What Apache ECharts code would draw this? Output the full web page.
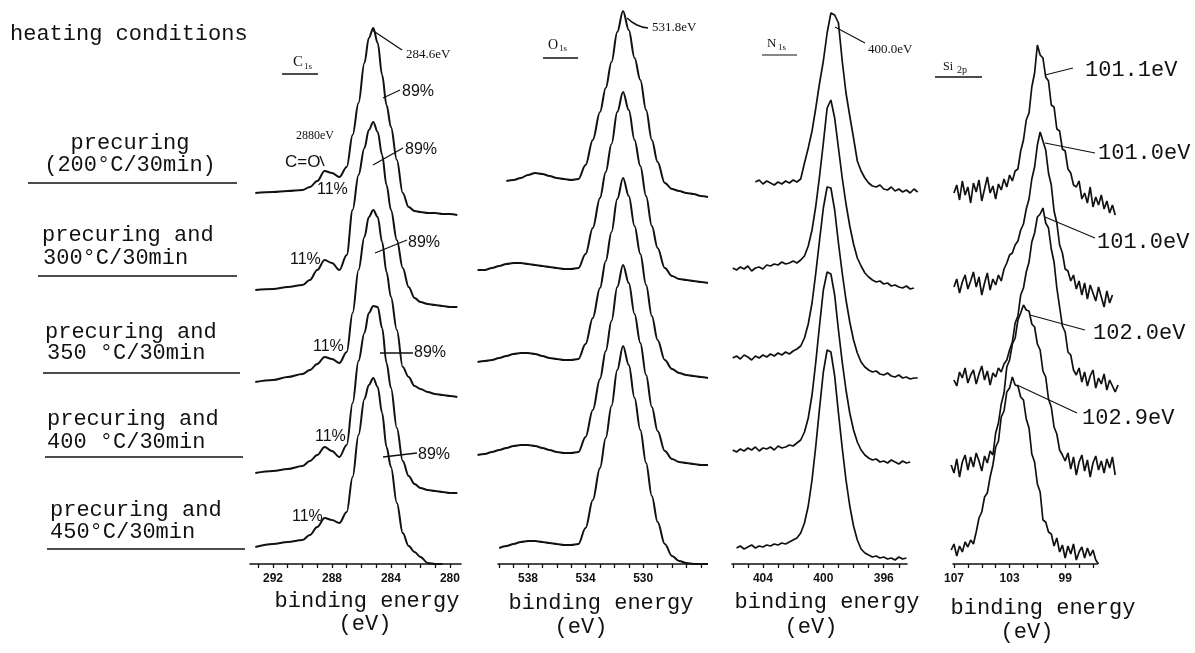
<!DOCTYPE html>
<html><head><meta charset="utf-8">
<script src="https://cdn.jsdelivr.net/npm/echarts@6/dist/echarts.min.js"></script>
<style>html,body{margin:0;padding:0;background:#fff}#c{width:1195px;height:653px}</style>
</head><body><div id="c"></div>
<script>
// ---------------- DATA (binding energy in eV, intensity in arbitrary units) ----------------
const CONDITIONS_LINE1 = ['precuring', 'precuring and', 'precuring and', 'precuring and', 'precuring and'];
const CONDITIONS_LINE2 = ['(200°C/30min)', '300°C/30min', '350 °C/30min', '400 °C/30min', '450°C/30min'];

// C1s
const C1S_ENERGY = [293.2,292,291,290,289.5,289,288.5,288,287.5,287,286.6,286.2,285.8,285.5,285.2,284.9,284.6,284.3,284.0,283.6,283.2,282.8,282.4,282.0,281.5,281,280.5,280,279.5];
const C1S_OFFSET = [371, 274, 182, 91, 17];
const C1S_200 = [0,1,2,3,6,12,22,20,16,26,58,90,130,155,165,150,118,88,66,33,0,-14,-18,-19,-20,-20,-21,-21,-22];
const C1S_300 = [0,1,3,5,10,20,30,27,20,35,80,115,142,160,168,158,135,105,80,50,22,3,-8,-12,-14,-15,-16,-17,-17];
const C1S_350 = [0,2,5,8,12,18,25,23,19,30,69,112,145,165,172,165,140,110,85,52,15,5,-4,-7,-10,-12,-13,-14,-15];
const C1S_400 = [0,2,4,7,12,18,26,22,16,28,70,112,140,160,167,166,145,110,85,45,12,-3,-11,-15,-17,-18,-19,-20,-20];
const C1S_450 = [0,3,5,7,12,20,29,27,24,35,70,112,148,162,169,160,134,100,80,44,14,1,-5,-10,-16,-17,-17,null,null];
const C1S_TICKS = [280,281,282,283,284,285,286,287,288,289,290,291,292,293];
const C1S_LABELS = [292,288,284,280];

// O1s
const O1S_ENERGY = [541.5,541,540.5,540,539.5,539,538.5,538,537.5,537,536.5,536,535.5,535,534.5,534,533.5,533,532.6,532.2,531.8,531.4,531,530.6,530.2,529.8,529.4,529,528.5,528,527.5,527,526.5,526,525.5];
const O1S_OFFSET = [383, 294, 202, 109, 16];
const O1S_200 = [null,null,null,null,0,1,3,6,8,7,5,3,2,1,2,16,41,69,93,119,149,170,151,123,101,71,41,19,-2,-8,-10,-12,-13,-15,-16];
const O1S_300 = [0,0,2,4,6,7,7,6,5,4,3,2,1,1,2,16,42,72,98,126,158,178,160,130,104,74,44,22,2,-6,-9,-10,-11,-12,-13];
const O1S_350 = [0,1,2,4,6,8,9,9,8,6,4,3,2,2,3,18,44,74,101,130,163,184,166,136,108,77,46,22,2,-7,-11,-13,-14,-15,-16];
const O1S_400 = [0,1,3,5,7,9,10,10,9,7,5,3,2,2,3,18,45,76,104,134,168,190,172,141,112,80,48,24,4,-4,-7,-8,-9,-10,-10];
const O1S_450 = [null,null,null,0,2,4,6,7,7,6,5,4,3,3,4,20,48,80,110,142,178,202,183,150,118,85,52,26,4,-8,-13,-15,-16,-16,-16];
const O1S_TICKS = [526,527,528,529,530,531,532,533,534,535,536,537,538,539,540];
const O1S_LABELS = [538,534,530];

// N1s
const N1S_ENERGY = [406.5,406.25,406,405.75,405.5,405.25,405,404.75,404.5,404.25,404,403.75,403.5,403.25,403,402.75,402.5,402.25,402,401.75,401.5,401.25,401,400.75,400.5,400.25,400,399.75,399.5,399.25,399,398.75,398.5,398.25,398,397.75,397.5,397.25,397,396.75,396.5,396.25,396,395.75,395.5,395.25,395,394.75,394.5,394.25,394,393.75];
const N1S_OFFSET = [381, 296, 206, 114, 16];
const N1S_200 = [null,null,null,null,null,null,null,null,1,3,-1,2,0,-2,1,-1,2,0,3,1,4,20,35,52,75,100,122,150,170,168,160,122,90,67,45,22,12,5,0,-3,-4,-2,-6,-7,-4,-8,-6,-9,-7,-10,-6,-9];
const N1S_300 = [null,null,0,-2,1,-1,2,-3,0,1,-1,3,2,4,3,6,4,5,7,5,8,12,22,38,62,92,125,160,168,150,120,90,64,42,24,10,2,-5,-9,-12,-14,-13,-16,-15,-18,-17,-19,-20,-18,-21,-20,null];
const N1S_350 = [null,null,0,2,-1,3,1,-2,2,0,3,1,4,2,5,3,6,4,7,9,12,20,34,55,85,118,150,171,170,148,115,85,58,36,18,5,-4,-9,-12,-14,-13,-16,-17,-15,-18,-19,-17,-20,-19,-21,-20,-20];
const N1S_400 = [null,null,0,-2,1,-1,2,0,3,-1,2,1,3,0,4,2,3,5,4,7,10,18,32,55,88,125,160,178,176,155,120,88,60,37,20,8,0,-5,-8,-10,-9,-12,-11,-13,-10,-12,-14,-11,-13,-12,null,null];
const N1S_450 = [null,null,null,0,2,-1,1,3,0,2,1,3,2,4,3,5,4,6,8,10,15,25,42,68,102,140,176,198,196,172,135,100,68,42,22,8,-1,-5,-7,-9,-8,-10,-9,-11,-10,-12,-9,-11,-10,null,null,null];
const N1S_TICKS = [395,396,397,398,399,400,401,402,403,404,405,406];
const N1S_LABELS = [404,400,396];

// Si2p
const SI2P_ENERGY = [107.2,107.0,106.8,106.6,106.4,106.2,106.0,105.8,105.6,105.4,105.2,105.0,104.8,104.6,104.4,104.2,104.0,103.8,103.6,103.4,103.2,103.0,102.8,102.6,102.4,102.2,102.0,101.8,101.6,101.4,101.2,101.0,100.8,100.6,100.4,100.2,100.0,99.8,99.6,99.4,99.2,99.0,98.8,98.6,98.4,98.2,98.0,97.8,97.6,97.4,97.2,97.0,96.8,96.6,96.4,96.2,96.0,95.8,95.6,95.4,95.2];
const SI2P_OFFSET = [369, 277, 184, 99, 14];
const SI2P_200 = [null,2,10,-5,14,0,8,-8,12,3,15,-6,6,18,2,9,-4,11,5,16,8,20,14,24,26,44,55,75,82,108,122,150,140,137,118,114,90,88,66,64,46,44,26,22,10,8,14,-4,2,-8,8,-12,-2,-10,0,-14,-6,-18,-10,-20,null];
const SI2P_300 = [null,0,8,-6,5,12,-2,6,15,0,10,-8,4,14,-3,8,2,12,6,18,24,32,34,42,46,57,63,78,88,108,120,142,155,146,137,114,102,76,64,42,34,18,16,6,12,-2,6,-8,4,-12,2,-6,-14,0,-10,-20,-4,-16,-8,null,null];
const SI2P_350 = [null,0,-6,8,2,12,-3,5,10,-4,6,14,0,9,-5,7,3,12,8,16,20,30,38,57,64,85,92,108,118,138,147,163,166,172,157,152,131,118,92,73,54,48,28,25,10,5,12,-2,8,-6,4,10,-8,2,-4,6,-10,0,-6,-12,-5];
const SI2P_400 = [0,-8,6,-12,3,10,-5,8,-2,12,4,-6,9,2,14,10,32,42,61,72,98,105,121,127,145,152,160,155,154,141,138,121,115,94,88,66,58,38,31,15,10,4,12,-4,8,-10,3,10,-6,5,-12,2,9,-5,4,-8,6,-3,8,-10,null];
const SI2P_450 = [0,6,-6,4,-2,8,3,10,6,18,32,38,53,57,73,85,103,109,133,139,158,162,173,165,164,153,150,131,122,96,88,66,58,30,28,18,16,4,12,-2,5,-8,4,-4,6,-10,-2,3,-8,2,-6,0,-10,-14,null,null,null,null,null,null,null];
const SI2P_TICKS = [97,98,99,100,101,102,103,104,105,106,107];
const SI2P_LABELS = [107,103,99];

// peak annotations
const C1S_PEAK_TEXT = ['284.6eV'];
const O1S_PEAK_TEXT = ['531.8eV'];
const N1S_PEAK_TEXT = ['400.0eV'];
const SI2P_PEAK_TEXT = ['101.1eV','101.0eV','101.0eV','102.0eV','102.9eV'];
const C1S_SHARES = ['89%','11%'];

// ---------------- LAYOUT ----------------
const INK = '#111';
const PANELS = [
  {energy:C1S_ENERGY, rows:[C1S_200,C1S_300,C1S_350,C1S_400,C1S_450], off:C1S_OFFSET, ticks:C1S_TICKS, labels:C1S_LABELS, left:250, right:461, min:279.25, max:293.56, smooth:0.35},
  {energy:O1S_ENERGY, rows:[O1S_200,O1S_300,O1S_350,O1S_400,O1S_450], off:O1S_OFFSET, ticks:O1S_TICKS, labels:O1S_LABELS, left:498, right:705, min:525.71, max:540.08, smooth:0.35},
  {energy:N1S_ENERGY, rows:[N1S_200,N1S_300,N1S_350,N1S_400,N1S_450], off:N1S_OFFSET, ticks:N1S_TICKS, labels:N1S_LABELS, left:732, right:907, min:394.46, max:406.05, smooth:0},
  {energy:SI2P_ENERGY, rows:[SI2P_200,SI2P_300,SI2P_350,SI2P_400,SI2P_450], off:SI2P_OFFSET, ticks:SI2P_TICKS, labels:SI2P_LABELS, left:953, right:1097, min:96.71, max:107.07, smooth:0}
];
const AXIS_Y = 564;
const EXT = 40; // extra room so traces may run past the drawn axis, same scale

function rowData(energy, rel, off) {
  const out = [];
  for (let i = 0; i < energy.length; i++) {
    if (rel[i] == null) continue;
    out.push([energy[i], rel[i] + off]);
  }
  return out;
}

const grid = [], xAxis = [], yAxis = [], series = [];
PANELS.forEach((p, k) => {
  const ppe = (p.right - p.left) / (p.max - p.min);
  const ga = 2 * k, gd = 2 * k + 1;
  grid.push({left: p.left, width: p.right - p.left, top: 0, height: AXIS_Y});
  grid.push({left: p.left - EXT, width: p.right - p.left + 2 * EXT, top: 0, height: AXIS_Y});
  xAxis.push({
    gridIndex: ga, type: 'value', min: p.min, max: p.max, inverse: true,
    axisLine: {show: true, onZero: false, lineStyle: {color: INK, width: 1.6}},
    axisTick: {show: true, customValues: p.ticks, length: 4, inside: false, lineStyle: {color: INK, width: 1.3}},
    axisLabel: {customValues: p.labels, margin: 9, fontSize: 12, fontWeight: 'bold', fontFamily: 'Liberation Sans', color: INK},
    splitLine: {show: false}
  });
  xAxis.push({gridIndex: gd, type: 'value', min: p.min - EXT / ppe, max: p.max + EXT / ppe, inverse: true, show: false});
  yAxis.push({gridIndex: ga, type: 'value', min: 0, max: AXIS_Y, show: false});
  yAxis.push({gridIndex: gd, type: 'value', min: 0, max: AXIS_Y, show: false});
  p.rows.forEach((r, j) => {
    series.push({
      type: 'line', xAxisIndex: gd, yAxisIndex: gd, data: rowData(p.energy, r, p.off[j]),
      showSymbol: false, symbol: 'none', smooth: p.smooth, smoothMonotone: 'x',
      lineStyle: {color: INK, width: k >= 2 ? 1.7 : 2}, clip: false, silent: true
    });
  });
});

// ---------------- TEXT / ANNOTATIONS ----------------
const G = [];
function txt(x, y, s, size, fam, align, extra) {
  G.push(Object.assign({type: 'text', x: x, y: y, silent: true,
    style: {text: s, fontSize: size, fontFamily: fam, fill: INK, align: align || 'left', verticalAlign: 'middle'}}, extra || {}));
}
function ln(x1, y1, x2, y2, w) {
  G.push({type: 'line', silent: true, shape: {x1: x1, y1: y1, x2: x2, y2: y2}, style: {stroke: INK, lineWidth: w || 1.2}});
}
const MONO = 'Liberation Mono';
txt(10, 34, 'heating conditions', 22, MONO);
const L1 = [[130,143,'center'],[42,235,'left'],[45,332,'left'],[47,419,'left'],[50,510,'left']];
const L2 = [[130,165,'center'],[43,258,'left'],[47,353,'left'],[47,442,'left'],[50,532,'left']];
const RULE = [[28,237,183],[38,237,276],[43,240,373],[45,243,457],[47,245,549]];
for (let i = 0; i < 5; i++) {
  txt(L1[i][0], L1[i][1], CONDITIONS_LINE1[i], 22, MONO, L1[i][2]);
  txt(L2[i][0], L2[i][1], CONDITIONS_LINE2[i], 22, MONO, L2[i][2]);
  ln(RULE[i][0], RULE[i][2], RULE[i][1], RULE[i][2], 1.5);
}
// axis titles
[[367,601,365,624],[601,603,581,627],[827,602,811,627],[1043,608,1027,632]].forEach(a => {
  txt(a[0], a[1], 'binding energy', 22, MONO, 'center');
  txt(a[2], a[3], '(eV)', 22, MONO, 'center');
});
// panel names with subscripts
const SERIF = 'Liberation Serif';
txt(293, 62, 'C', 15, SERIF); txt(304, 67, '1s', 9, SERIF); ln(282, 74, 318, 74, 1.3);
txt(548, 45, 'O', 14, SERIF); txt(559, 49, '1s', 9, SERIF); ln(543, 58, 578, 58, 1.3);
txt(767, 44, 'N', 13, SERIF); txt(778, 48, '1s', 9, SERIF); ln(762, 55, 797, 55, 1.1);
txt(943, 67, 'Si', 12, SERIF); txt(957, 70, '2p', 10, SERIF); ln(935, 77, 982, 77, 1.3);

// peak labels (small serif)
txt(406, 55, C1S_PEAK_TEXT[0], 13, SERIF); ln(372, 30, 402, 50, 1.3);
txt(652, 28, O1S_PEAK_TEXT[0], 13, SERIF);
G.push({type: 'polyline', silent: true, shape: {points: [[627,18],[637,25],[648,28]], smooth: 0.5}, style: {stroke: INK, lineWidth: 1.6, fill: null}});
txt(868, 50, N1S_PEAK_TEXT[0], 13, SERIF); ln(835, 27, 865, 43, 1.1);

// C1s shares
const HAND = 'Liberation Sans';
txt(296, 136, '2880eV', 12, SERIF);
txt(285, 162, 'C=O', 17, HAND); ln(320, 156, 324, 166, 1.3);
const P89 = [[402,92,383,98,400,90],[405,150,373,165,403,148],[408,243,375,253,407,240],[414,353,380,353,413,353],[418,455,383,457,417,453]];
P89.forEach(p => { txt(p[0], p[1], C1S_SHARES[0], 16, HAND); ln(p[2], p[3], p[4], p[5], 1.3); });
[[317,190],[290,260],[313,347],[315,437],[292,517]].forEach(p => txt(p[0], p[1], C1S_SHARES[1], 16, HAND));

// Si2p peak labels (typewriter)
const SI_LAB = [[1085,70,1045,75,1073,68],[1098,153,1045,143,1095,153],[1097,242,1045,217,1095,238],[1093,333,1030,315,1085,330],[1082,418,1017,385,1077,413]];
SI_LAB.forEach((p, i) => { txt(p[0], p[1], SI2P_PEAK_TEXT[i], 22, MONO); ln(p[2], p[3], p[4], p[5], 1.2); });

const chart = echarts.init(document.getElementById('c'), null, {renderer: 'canvas'});
chart.setOption({
  animation: false, backgroundColor: '#fff',
  grid: grid, xAxis: xAxis, yAxis: yAxis, series: series, graphic: G
});
</script></body></html>
